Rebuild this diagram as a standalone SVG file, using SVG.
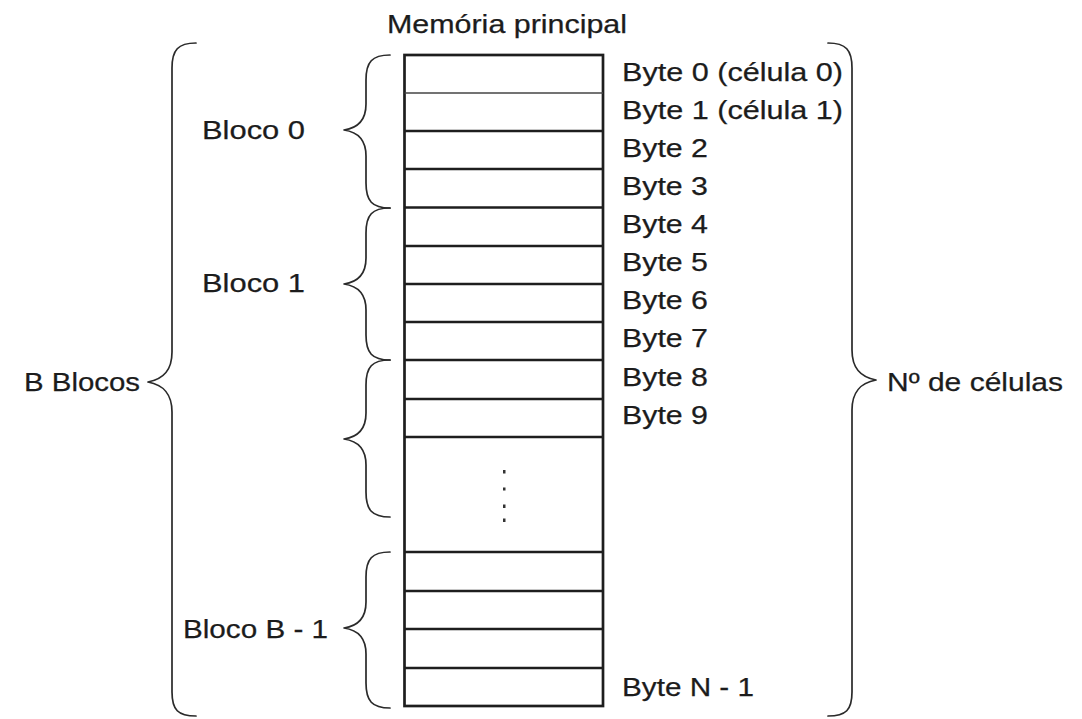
<svg xmlns="http://www.w3.org/2000/svg" width="1082" height="719" viewBox="0 0 1082 719">
  <style>
    text { font-family: "Liberation Sans", Arial, sans-serif; font-size: 26px; fill: #1c1c1c; stroke: #1c1c1c; stroke-width: 0.25; }
    .brace { fill: none; stroke: #2a2a2a; stroke-width: 1.7; stroke-linecap: round; stroke-linejoin: round; }
    .cell { fill: none; stroke: #1e1e1e; stroke-width: 2.7; }
    .div { stroke: #1e1e1e; stroke-width: 2.7; }
    .thin { stroke: #444; stroke-width: 1.3; }
    .dot { fill: #333; }
  </style>

  <rect width="1082" height="719" fill="#ffffff"/>

  <!-- title -->
  <g id="title">
    <text x="387" y="33" textLength="240" lengthAdjust="spacingAndGlyphs">Memória principal</text>
  </g>

  <!-- main memory column -->
  <g id="memory">
    <rect class="cell" x="404.5" y="55" width="198.5" height="651"/>
    <line class="thin" x1="404.5" y1="93" x2="603" y2="93"/>
    <line class="div" x1="404.5" y1="131" x2="603" y2="131"/>
    <line class="div" x1="404.5" y1="169" x2="603" y2="169"/>
    <line class="div" x1="404.5" y1="207.5" x2="603" y2="207.5"/>
    <line class="div" x1="404.5" y1="246" x2="603" y2="246"/>
    <line class="div" x1="404.5" y1="284" x2="603" y2="284"/>
    <line class="div" x1="404.5" y1="322" x2="603" y2="322"/>
    <line class="div" x1="404.5" y1="360" x2="603" y2="360"/>
    <line class="div" x1="404.5" y1="399" x2="603" y2="399"/>
    <line class="div" x1="404.5" y1="437" x2="603" y2="437"/>
    <line class="div" x1="404.5" y1="552" x2="603" y2="552"/>
    <line class="div" x1="404.5" y1="591" x2="603" y2="591"/>
    <line class="div" x1="404.5" y1="629" x2="603" y2="629"/>
    <line class="div" x1="404.5" y1="668" x2="603" y2="668"/>
    <!-- vertical ellipsis -->
    <rect class="dot" x="503" y="470" width="2.5" height="3.5"/>
    <rect class="dot" x="503" y="487.5" width="2.5" height="3"/>
    <rect class="dot" x="503" y="504.5" width="2.5" height="3.5"/>
    <rect class="dot" x="503" y="518.5" width="2.5" height="3.5"/>
  </g>

  <!-- byte labels -->
  <g id="byte-labels">
    <text x="622" y="81" textLength="221" lengthAdjust="spacingAndGlyphs">Byte 0 (célula 0)</text>
    <text x="622" y="119" textLength="221" lengthAdjust="spacingAndGlyphs">Byte 1 (célula 1)</text>
    <text x="622" y="157" textLength="86" lengthAdjust="spacingAndGlyphs">Byte 2</text>
    <text x="622" y="195" textLength="86" lengthAdjust="spacingAndGlyphs">Byte 3</text>
    <text x="622" y="233" textLength="86" lengthAdjust="spacingAndGlyphs">Byte 4</text>
    <text x="622" y="271" textLength="86" lengthAdjust="spacingAndGlyphs">Byte 5</text>
    <text x="622" y="309" textLength="86" lengthAdjust="spacingAndGlyphs">Byte 6</text>
    <text x="622" y="347" textLength="86" lengthAdjust="spacingAndGlyphs">Byte 7</text>
    <text x="622" y="386" textLength="86" lengthAdjust="spacingAndGlyphs">Byte 8</text>
    <text x="622" y="424" textLength="86" lengthAdjust="spacingAndGlyphs">Byte 9</text>
    <text x="622" y="696" textLength="132" lengthAdjust="spacingAndGlyphs">Byte N - 1</text>
  </g>

  <!-- block braces -->
  <g id="connectors">
    <path class="brace" d="M390 55 C372 55 366 62 366 80 L366 104 C366 120 358 128 344 130 C358 132 366 140 366 156 L366 183 C366 201 372 208 390 208"/>
    <path class="brace" d="M390 208 C372 208 366 215 366 233 L366 258 C366 274 358 282 344 284 C358 286 366 294 366 310 L366 335 C366 353 372 360 390 360"/>
    <path class="brace" d="M390 360 C372 360 366 367 366 385 L366 413 C366 429 358 437 344 439 C358 441 366 449 366 465 L366 492 C366 510 372 517 390 517"/>
    <path class="brace" d="M390 552 C372 552 366 559 366 577 L366 602 C366 618 358 626 344 628 C358 630 366 638 366 654 L366 683 C366 701 372 708 390 708"/>
    <path class="brace" d="M196 43 C178 43 172 50 172 68 L172 352 C172 370 164 379 148 382 C164 385 172 394 172 412 L172 692 C172 710 178 716 196 716"/>
    <path class="brace" d="M828 43 C846 43 852 50 852 68 L852 350 C852 368 860 377 876 380 C860 383 852 392 852 410 L852 692 C852 710 846 716 828 716"/>
  </g>

  <!-- block labels -->
  <g id="block-labels">
    <text x="202" y="139" textLength="103" lengthAdjust="spacingAndGlyphs">Bloco 0</text>
    <text x="202" y="292" textLength="103" lengthAdjust="spacingAndGlyphs">Bloco 1</text>
    <text x="183" y="638" textLength="145" lengthAdjust="spacingAndGlyphs">Bloco B - 1</text>
    <text x="24" y="391" textLength="116" lengthAdjust="spacingAndGlyphs">B Blocos</text>
    <text x="887" y="391" textLength="176" lengthAdjust="spacingAndGlyphs">Nº de células</text>
  </g>
</svg>
